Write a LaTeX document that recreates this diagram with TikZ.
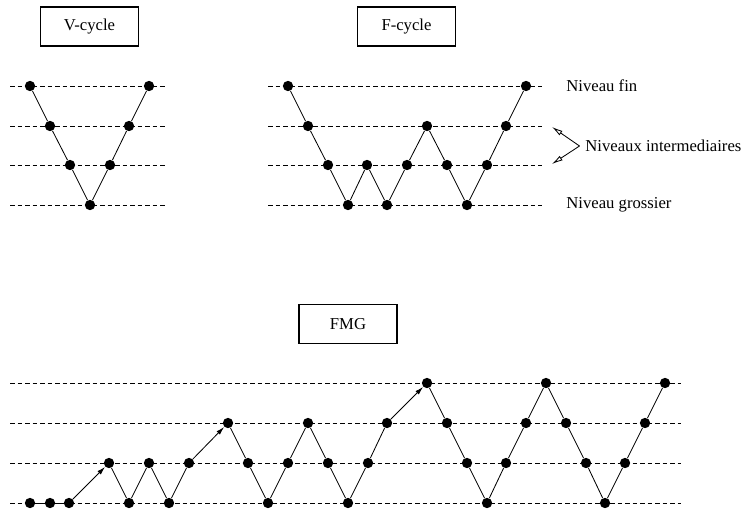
\documentclass[tikz,border=0pt]{standalone}
\usepackage{fontspec}
\setmainfont{Liberation Serif}
\usetikzlibrary{arrows.meta}

\tikzset{
  dot/.style={circle,fill,inner sep=0pt,minimum size=6.2pt},
  niveau/.style={dash pattern=on 2.7pt off 1.8pt,line width=0.5pt},
  titre/.style={draw,line width=0.9pt,minimum width=59pt,minimum height=23.5pt,inner sep=0pt},
  lien/.style={line width=0.5pt},
}

\begin{document}
\begin{tikzpicture}[x=0.6pt,y=-0.6pt]
\def\pt#1#2#3{\node[dot] at (#2,#3) (#1) {};}
\useasboundingbox (0,0) rectangle (745,510);

% titres
\node[titre] at (89.5,26.5) (tv) {V-cycle};
\node[titre] at (406.5,26.5) (tf) {F-cycle};
\node[titre] at (348,324) (tm) {FMG};

% niveaux
\draw[niveau] (10,86) -- (166,86);
\draw[niveau] (10,126) -- (166,126);
\draw[niveau] (10,165) -- (166,165);
\draw[niveau] (10,205) -- (166,205);
\draw[niveau] (268,86) -- (542,86);
\draw[niveau] (268,126) -- (542,126);
\draw[niveau] (268,165) -- (542,165);
\draw[niveau] (268,205) -- (542,205);
\draw[niveau] (10,383) -- (681,383);
\draw[niveau] (10,423) -- (681,423);
\draw[niveau] (10,463) -- (681,463);
\draw[niveau] (10,503) -- (681,503);

% V-cycle
\pt{v1}{30}{86} \pt{v2}{50}{126} \pt{v3}{70}{165} \pt{v4}{90}{205}
\pt{v5}{110}{165} \pt{v6}{129}{126} \pt{v7}{149}{86}
\draw[lien] (v1) -- (v2) -- (v3) -- (v4) -- (v5) -- (v6) -- (v7);

% F-cycle
\pt{f1}{288}{86} \pt{f2}{308}{126} \pt{f3}{328}{165} \pt{f4}{348}{205}
\pt{f5}{367}{165} \pt{f6}{387}{205} \pt{f7}{407}{165} \pt{f8}{427}{126}
\pt{f9}{447}{165} \pt{f10}{467}{205} \pt{f11}{487}{165} \pt{f12}{506}{126}
\pt{f13}{526}{86}
\draw[lien] (f1) -- (f2) -- (f3) -- (f4) -- (f5) -- (f6) -- (f7) -- (f8)
  -- (f9) -- (f10) -- (f11) -- (f12) -- (f13);

% legende
\node[anchor=west] at (560.5,86) (fin) {Niveau fin};
\node[anchor=west] at (579.5,146) (inter) {Niveaux intermediaires};
\node[anchor=west] at (560.5,205) (gros) {Niveau grossier};
\coordinate (i1) at (552,127);
\coordinate (i2) at (552,164);
\draw[lien,-{Latex[open,length=6.5pt,width=3.2pt]}] (inter.west) -- (i1);
\draw[lien,-{Latex[open,length=6.5pt,width=3.2pt]}] (inter.west) -- (i2);

% FMG
\pt{m1}{30}{503} \pt{m2}{50}{503} \pt{m3}{69}{503}
\pt{m4}{109}{463} \pt{m5}{129}{503} \pt{m6}{149}{463} \pt{m7}{169}{503}
\pt{m8}{189}{463}
\pt{m9}{228}{423} \pt{m10}{248}{463} \pt{m11}{268}{503} \pt{m12}{288}{463}
\pt{m13}{308}{423} \pt{m14}{328}{463} \pt{m15}{348}{503} \pt{m16}{368}{463}
\pt{m17}{387}{423}
\pt{m18}{427}{383} \pt{m19}{447}{423} \pt{m20}{467}{463} \pt{m21}{487}{503}
\pt{m22}{506}{463} \pt{m23}{526}{423} \pt{m24}{546}{383} \pt{m25}{566}{423}
\pt{m26}{586}{463} \pt{m27}{605}{503} \pt{m28}{625}{463} \pt{m29}{645}{423}
\pt{m30}{665}{383}
\draw[lien] (m1) -- (m2) -- (m3);
\draw[lien] (m4) -- (m5) -- (m6) -- (m7) -- (m8);
\draw[lien] (m9) -- (m10) -- (m11) -- (m12) -- (m13) -- (m14) -- (m15)
  -- (m16) -- (m17);
\draw[lien] (m18) -- (m19) -- (m20) -- (m21) -- (m22) -- (m23) -- (m24)
  -- (m25) -- (m26) -- (m27) -- (m28) -- (m29) -- (m30);

% prolongations
\draw[lien,-{Latex[length=5pt,width=2.8pt]}] (m3) -- (m4);
\draw[lien,-{Latex[length=5pt,width=2.8pt]}] (m8) -- (m9);
\draw[lien,-{Latex[length=5pt,width=2.8pt]}] (m17) -- (m18);
\end{tikzpicture}
\end{document}
